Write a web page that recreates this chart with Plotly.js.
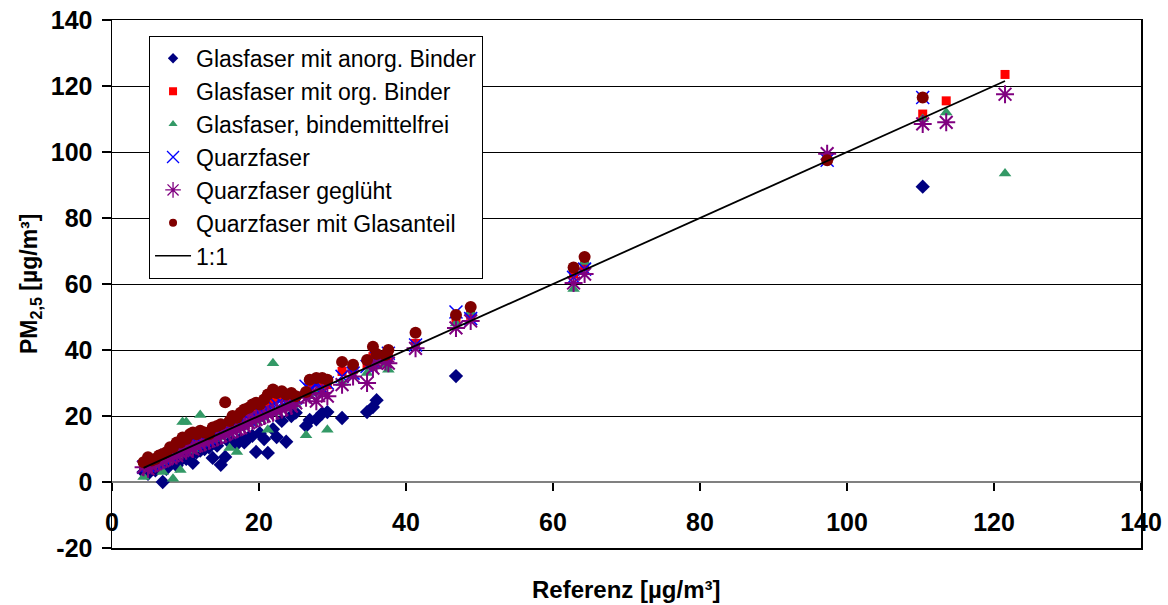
<!DOCTYPE html>
<html>
<head>
<meta charset="utf-8">
<script src="https://cdn.plot.ly/plotly-3.0.1.min.js"></script>
<style>html,body{margin:0;padding:0;background:#fff}#chart{width:1168px;height:605px}</style>
</head>
<body>
<div id="chart"></div>
<script>
// Reference values (x) shared by all filter series
const referenz = [4.3,4.9,5.4,5.9,6.4,6.9,7.4,7.9,8.3,8.8,
  9.3,9.6,10.1,10.6,11.0,11.5,12.0,12.6,13.2,13.7,
  14.3,14.8,15.4,16.0,16.4,17.0,17.5,18.0,18.6,19.1,
  19.6,20.1,20.7,21.2,21.9,22.4,23.1,23.7,24.4,25.0,
  26.4,26.9,27.8,28.6,29.3,31.3,32.8,34.7,35.5,36.0,
  37.2,37.6,41.3,46.8,48.8,62.8,64.3,97.3,110.3,113.5,121.5];

const glasAnorg = [3.0,2.5,4.0,3.5,4.5,0.0,4.0,5.5,6.0,5.0,
  6.5,7.5,7.0,8.0,5.8,9.0,9.5,10.0,10.5,7.3,
  11.0,5.2,7.6,12.0,12.5,11.5,13.0,12.0,13.5,14.0,
  9.1,14.8,13.0,8.8,16.0,13.6,18.5,12.2,20.0,21.0,
  17.0,18.8,19.0,20.8,21.2,19.4,null,21.2,22.7,24.8,
  null,null,null,32.1,null,null,null,null,89.5,null,null];

const glasOrg = [5.5,6.5,6.0,7.0,7.5,8.0,8.5,9.5,9.5,11.0,
  11.0,12.0,12.0,13.0,13.5,13.5,14.5,14.0,14.5,15.5,
  16.0,16.5,17.0,17.5,18.5,19.0,19.5,20.5,21.0,21.5,
  22.0,23.0,22.5,24.0,25.0,26.0,25.5,26.0,25.5,26.0,
  27.0,29.0,30.0,30.0,29.5,33.5,34.0,35.5,38.0,37.0,
  37.5,38.0,42.0,49.0,50.5,63.0,65.5,98.0,111.5,115.5,123.5];

const glasFrei = [1.5,4.0,5.0,5.5,6.0,3.0,6.5,7.0,1.0,8.0,
  3.6,18.2,18.2,9.5,10.0,11.0,20.3,12.0,12.5,13.0,
  13.5,14.0,14.5,10.3,15.5,9.1,16.5,17.0,17.5,18.0,
  18.5,19.0,19.5,15.8,36.0,21.0,22.0,22.5,23.0,23.5,
  14.2,26.0,27.0,27.5,15.8,30.0,32.0,33.0,35.0,36.5,
  35.5,34.0,41.0,48.0,51.5,58.5,66.7,null,110.0,112.0,93.5];

const quarz = [4.5,5.0,5.5,6.0,6.5,7.5,8.0,8.0,9.0,9.5,
  10.0,10.0,11.0,11.5,11.5,12.0,12.5,13.0,13.5,14.5,
  15.0,15.5,16.0,16.5,17.0,17.5,18.0,19.0,19.0,20.0,
  20.5,21.0,21.5,22.0,23.0,23.5,24.0,24.5,25.0,25.5,
  29.0,28.0,29.5,28.5,30.0,32.0,33.0,35.0,36.5,37.5,
  38.0,39.0,41.5,51.5,49.5,62.0,64.5,97.5,116.5,null,null];

const quarzGegl = [4.5,4.0,5.0,5.5,6.0,6.5,7.0,7.5,8.0,8.0,
  9.0,9.5,9.5,10.5,10.0,11.0,11.5,12.0,12.5,13.0,
  13.5,14.0,14.5,15.0,15.5,16.0,16.5,17.0,18.0,18.5,
  19.0,19.5,20.0,20.5,21.0,21.5,22.0,22.5,23.0,24.0,
  25.5,26.5,24.5,27.0,26.0,29.5,32.0,30.0,34.5,36.0,
  36.5,36.0,40.5,46.7,48.8,60.3,63.0,99.5,108.5,109.0,117.5];

const quarzGlas = [6.0,7.5,6.5,7.0,8.0,8.5,9.0,10.5,10.5,12.0,
  12.0,13.5,13.0,14.5,15.0,14.5,15.5,15.0,14.5,16.5,
  17.0,17.5,24.2,18.5,20.0,19.5,21.0,22.0,22.5,23.5,
  24.0,23.5,25.0,26.5,28.0,27.0,27.5,26.5,27.0,26.0,
  27.3,31.0,31.5,31.5,31.0,36.4,35.5,37.0,41.0,38.8,
  38.5,40.0,45.2,50.6,53.0,65.0,68.2,97.5,116.5,null,null];

const seriesNames = ["Glasfaser mit anorg. Binder","Glasfaser mit org. Binder",
  "Glasfaser, bindemittelfrei","Quarzfaser","Quarzfaser geglüht",
  "Quarzfaser mit Glasanteil","1:1"];

const xTicks = [0,20,40,60,80,100,120,140];
const yTicks = [-20,0,20,40,60,80,100,120,140];
const xTitle = "Referenz [µg/m³]";
const yTitle = "PM<sub>2,5</sub> [µg/m³]";

const FONT = "Liberation Sans, Arial, sans-serif";

const markerDefs = [
  {symbol:"diamond", size:11, color:"#000080"},
  {symbol:"square", size:9, color:"#FF0000"},
  {symbol:"triangle-up", size:11, color:"#339966"},
  {symbol:"x-thin-open", size:13, color:"#0000FF", line:{color:"#0000FF", width:1.5}},
  {symbol:"asterisk-open", size:15, color:"#800080", line:{color:"#800080", width:2}},
  {symbol:"circle", size:12, color:"#800000"}
];
const legendMarkerSize = [8, 8, 8, 12, 13, 8];
const ys = [glasAnorg, glasOrg, glasFrei, quarz, quarzGegl, quarzGlas];

const traces = ys.map((y,i)=>({
  type:"scatter", mode:"markers", name:seriesNames[i],
  x:referenz, y:y, marker:markerDefs[i], showlegend:false,
  xaxis:"x", yaxis:"y", cliponaxis:false
}));
const rmin = Math.min(...referenz), rmax = Math.max(...referenz);
traces.push({type:"scatter", mode:"lines", name:seriesNames[6],
  x:[rmin,rmax], y:[rmin,rmax], line:{color:"#000000", width:1.8}, showlegend:false});

// legend entries (small symbols like the original legend)
ys.forEach((y,i)=>{
  const m = Object.assign({}, markerDefs[i], {size:legendMarkerSize[i]});
  if (m.line) m.line = {color:m.line.color, width:1.3};
  traces.push({type:"scatter", mode:"markers", name:seriesNames[i], x:[null], y:[null],
    marker:m, legendgroup:"g"+i, showlegend:true});
});
traces.push({type:"scatter", mode:"lines", name:seriesNames[6], x:[null], y:[null],
  line:{color:"#000", width:1.5}, legendgroup:"g6", showlegend:true});

// dummy trace to activate xaxis2 (tick axis sitting on y = 0)
traces.push({type:"scatter", x:[null], y:[null], xaxis:"x2", yaxis:"y", showlegend:false, hoverinfo:"skip"});

const layout = {
  width:1168, height:605,
  margin:{l:112, r:27, t:20, b:57},
  paper_bgcolor:"#ffffff", plot_bgcolor:"#ffffff",
  font:{family:FONT, color:"#000"},
  showlegend:true,
  legend:{x:0.036, y:0.97, xanchor:"left", yanchor:"top",
    bgcolor:"#ffffff", bordercolor:"#000000", borderwidth:1,
    font:{family:FONT, size:23, color:"#000"}, tracegroupgap:2,
    itemwidth:36, traceorder:"normal"},
  xaxis:{range:[0,140], showgrid:false, zeroline:false,
    showline:true, linecolor:"#000", linewidth:1.5, mirror:true,
    showticklabels:false, ticks:""},
  xaxis2:{range:[0,140], overlaying:"x", anchor:"free", position:0.125, side:"bottom",
    tickvals:xTicks, ticktext:xTicks.map(String), ticks:"outside", ticklen:8, tickwidth:1.5, tickcolor:"#000",
    showgrid:false, zeroline:false, showline:false, ticklabelstandoff:10,
    tickfont:{family:FONT, size:25, color:"#000", weight:"bold"}},
  yaxis:{range:[-20,140], tickvals:yTicks, ticktext:yTicks.map(String),
    showgrid:true, gridcolor:"#000", gridwidth:1,
    zeroline:true, zerolinecolor:"#808080", zerolinewidth:1.5,
    showline:true, linecolor:"#000", linewidth:1.5, mirror:true,
    ticks:"outside", ticklen:9, tickwidth:1.5, tickcolor:"#000", ticklabelstandoff:4,
    tickfont:{family:FONT, size:25, color:"#000", weight:"bold"}},
  annotations:[
    {text:xTitle, xref:"paper", yref:"paper", x:0.5, y:-0.0795, xanchor:"center", yanchor:"middle",
     showarrow:false, font:{family:FONT, size:24, color:"#000", weight:"bold"}},
    {text:yTitle, xref:"paper", yref:"paper", x:-0.0797, y:0.5, xanchor:"center", yanchor:"middle",
     textangle:-90, showarrow:false, font:{family:FONT, size:23, color:"#000", weight:"bold"}}
  ]
};

Plotly.newPlot("chart", traces, layout, {displayModeBar:false, staticPlot:true});
</script>
</body>
</html>
